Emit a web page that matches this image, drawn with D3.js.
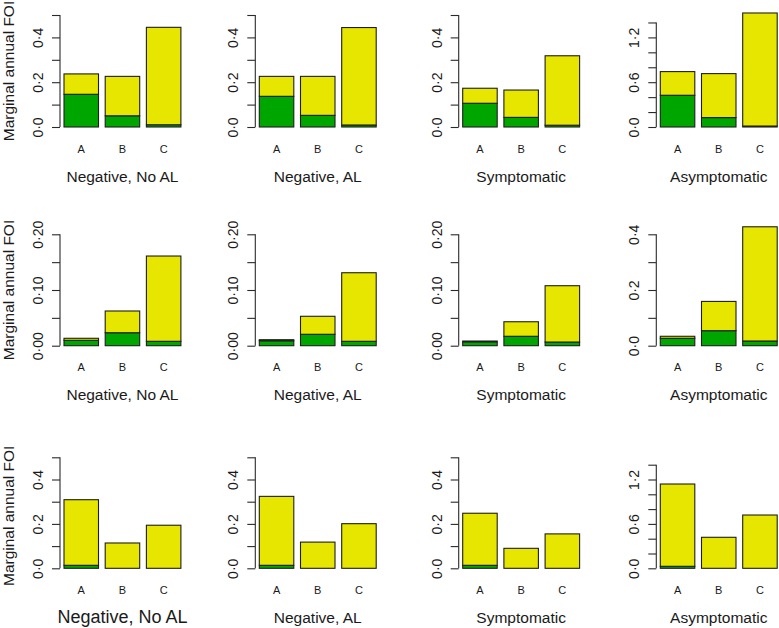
<!DOCTYPE html>
<html>
<head>
<meta charset="utf-8">
<script src="https://cdn.jsdelivr.net/npm/d3@7"></script>
<style>
  html, body { margin: 0; padding: 0; background: #fff; }
  svg { display: block; font-family: "Liberation Sans", Arial, sans-serif; }
</style>
</head>
<body>
<svg id="chart" width="779" height="628"></svg>
<script>
// ---------------- data ----------------
const categories = ["A", "B", "C"];
const panelTitles = ["Negative, No AL", "Negative, AL", "Symptomatic", "Asymptomatic"];
const yAxisTitle = "Marginal annual FOI";

// green (bottom) segment per row, per column, per category A,B,C
const greenRow1 = [[0.146, 0.050, 0.010], [0.137, 0.052, 0.009], [0.106, 0.043, 0.008], [0.425, 0.126, 0.013]];
const yellowRow1 = [[0.091, 0.176, 0.435], [0.089, 0.174, 0.435], [0.067, 0.122, 0.310], [0.317, 0.589, 1.514]];

const greenRow2 = [[0.0097, 0.0233, 0.0079], [0.0088, 0.0205, 0.0079], [0.0070, 0.0169, 0.0066], [0.0266, 0.0539, 0.0169]];
const yellowRow2 = [[0.0036, 0.0390, 0.1531], [0.0020, 0.0323, 0.1231], [0.0014, 0.0261, 0.1011], [0.0072, 0.1051, 0.4101]];

const greenRow3 = [[0.0135, 0, 0], [0.0135, 0, 0], [0.0135, 0, 0], [0.027, 0, 0]];
const yellowRow3 = [[0.2955, 0.114, 0.194], [0.3105, 0.118, 0.201], [0.2345, 0.090, 0.155], [1.112, 0.419, 0.720]];

// y-axis extents and ticks (first three columns vs. the Asymptomatic column)
const yMaxMain = [0.5, 0.2, 0.5];
const yMaxAsym = [1.5, 0.4, 1.5];
const ticksMain = [[0, 0.1, 0.2, 0.3, 0.4, 0.5], [0, 0.05, 0.1, 0.15, 0.2], [0, 0.1, 0.2, 0.3, 0.4, 0.5]];
const tickLabelsMain = [["0·0", "", "0·2", "", "0·4", ""], ["0·00", "", "0·10", "", "0·20"], ["0·0", "", "0·2", "", "0·4", ""]];
const ticksAsym = [[0, 0.2, 0.4, 0.6, 0.8, 1.0, 1.2, 1.4], [0, 0.1, 0.2, 0.3, 0.4], [0, 0.2, 0.4, 0.6, 0.8, 1.0, 1.2, 1.4]];
const tickLabelsAsym = [["0·0", "", "", "0·6", "", "", "1·2", ""], ["0·0", "", "0·2", "", "0·4"], ["0·0", "", "", "0·6", "", "", "1·2", ""]];

const seriesKeys = ["green", "yellow"];
const seriesColors = { green: "#00A600", yellow: "#E6E600" };

// ---------------- layout ----------------
const rowZeroY = [127, 345.7, 568.3];
const rowTopY = [15, 234.3, 457.3];
const colBarStart = [64, 259.3, 462.7, 660.3];
const barStep = 41.2;
const barPad = 0.1626;

const svg = d3.select("#chart");

const greens = [greenRow1, greenRow2, greenRow3];
const yellows = [yellowRow1, yellowRow2, yellowRow3];

for (let r = 0; r < 3; r++) {
  for (let c = 0; c < 4; c++) {
    const isAsym = c === 3;
    const yMax = isAsym ? yMaxAsym[r] : yMaxMain[r];
    const ticks = isAsym ? ticksAsym[r] : ticksMain[r];
    const tickLabels = isAsym ? tickLabelsAsym[r] : tickLabelsMain[r];

    const y = d3.scaleLinear().domain([0, yMax]).range([rowZeroY[r], rowTopY[r]]);
    const x0 = colBarStart[c] - barStep * barPad / 2;
    const x = d3.scaleBand().domain(categories)
      .range([x0, x0 + 3 * barStep])
      .paddingInner(barPad).paddingOuter(barPad / 2);
    const axisX = colBarStart[c] - 4;

    const g = svg.append("g");

    const rows = categories.map((cat, i) => ({
      cat, green: greens[r][c][i], yellow: yellows[r][c][i]
    }));
    const stacked = d3.stack().keys(seriesKeys)(rows);

    stacked.forEach(layer => {
      g.selectAll(null).data(layer).enter().append("rect")
        .attr("x", d => x(d.data.cat))
        .attr("width", x.bandwidth())
        .attr("y", d => y(d[1]))
        .attr("height", d => Math.max(0, y(d[0]) - y(d[1])))
        .attr("fill", seriesColors[layer.key])
        .attr("stroke", "#1e1e1e")
        .attr("stroke-width", 1.1);
    });

    // y axis
    const axis = d3.axisLeft(y).tickValues(ticks)
      .tickSize(8).tickSizeOuter(0)
      .tickFormat((d, i) => tickLabels[i]);
    const ag = g.append("g").attr("transform", `translate(${axisX},0)`).call(axis);
    ag.select(".domain")
      .attr("d", `M0,${y(ticks[0])}V${y(ticks[ticks.length - 1])}`)
      .attr("stroke", "#2a2a2a").attr("stroke-width", 1.1);
    ag.selectAll(".tick line").attr("stroke", "#2a2a2a").attr("stroke-width", 1.1);
    ag.selectAll(".tick text")
      .attr("transform", "rotate(-90)")
      .attr("x", 0).attr("y", -17).attr("dy", null)
      .attr("text-anchor", "middle")
      .attr("fill", "#1a1a1a")
      .style("font-size", "14px")
      .style("font-family", "'Liberation Sans', Arial, sans-serif");

    // category labels
    g.selectAll(null).data(categories).enter().append("text")
      .attr("x", d => x(d) + x.bandwidth() / 2)
      .attr("y", rowZeroY[r] + 25.5)
      .attr("text-anchor", "middle")
      .attr("fill", "#1a1a1a")
      .style("font-size", "11px")
      .text(d => d);

    // panel subtitle
    const big = (r === 2 && c === 0);
    g.append("text")
      .attr("x", x("B") + x.bandwidth() / 2)
      .attr("y", rowZeroY[r] + 54.5)
      .attr("text-anchor", "middle")
      .attr("fill", "#1a1a1a")
      .style("font-size", big ? "18px" : "15.5px")
      .text(panelTitles[c]);

    // y-axis title in first column
    if (c === 0) {
      const cy = (rowZeroY[r] + rowTopY[r]) / 2 + (r === 2 ? 3 : 0);
      g.append("text")
        .attr("transform", `translate(13.5,${cy}) rotate(-90)`)
        .attr("text-anchor", "middle")
        .attr("fill", "#1a1a1a")
        .style("font-size", "15.5px")
        .text(yAxisTitle);
    }
  }
}
</script>
</body>
</html>
